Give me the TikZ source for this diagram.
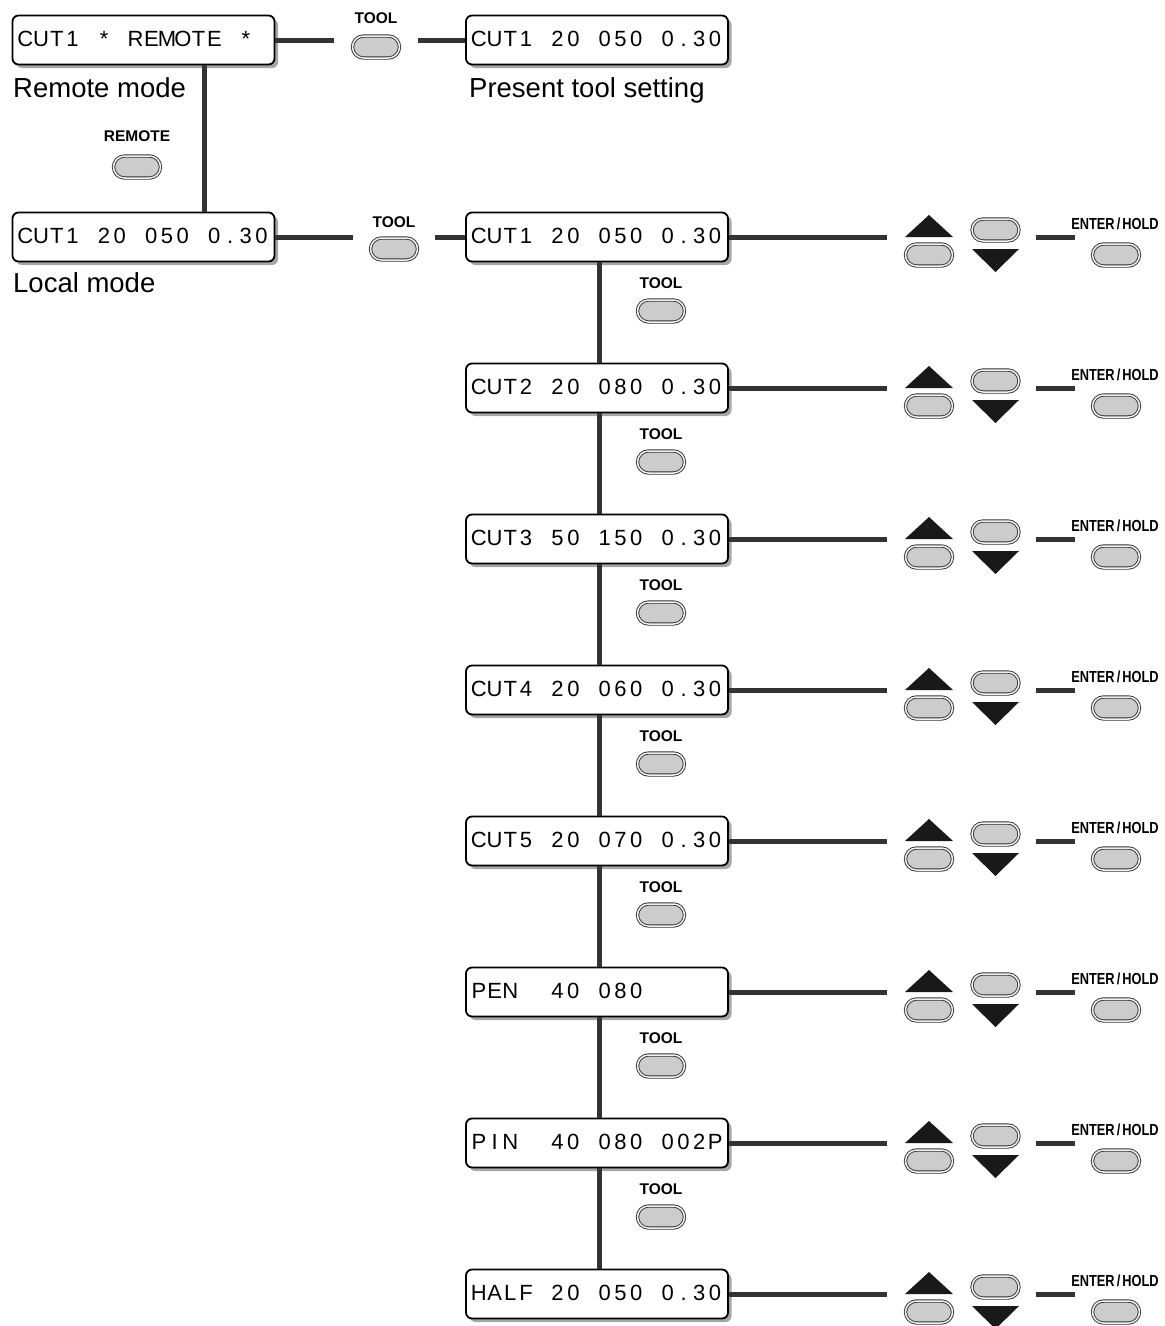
\documentclass[tikz,border=0pt]{standalone}
\usepackage{fontspec}
\setmainfont{Liberation Sans}
\usepackage{graphicx}
\usetikzlibrary{shapes.misc,shadows,calc}

\newcommand\lcdtext[1]{\lcdloop#1\relax}
\def\lcdloop#1{\ifx#1\relax\else\makebox[15.75pt][c]{\ifx#1_\else#1\fi}\expandafter\lcdloop\fi}

\tikzset{
 lcd/.style={draw=black, line width=1.8pt, rounded corners=6pt, fill=white,
   minimum width=262pt, minimum height=49pt, text width=252pt, inner xsep=5pt, inner ysep=0pt,
   text height=17pt, text depth=5pt, align=left, font=\fontsize{22}{26}\selectfont,
   drop shadow={shadow xshift=3.5pt, shadow yshift=-3.5pt, fill=black!35, opacity=1}},
 conn/.style={draw=black!80, line width=5pt},
 btn/.style={rounded rectangle, minimum width=47pt, minimum height=22pt, inner sep=0pt,
   draw=black!80, line width=0.9pt, double=black!6, double distance=1.5pt, fill=black!20},
 btnlabel/.style={font=\bfseries\fontsize{15.5}{18}\selectfont, inner sep=0pt},
 enterlabel/.style={font=\bfseries\fontsize{16}{18}\selectfont, inner sep=0pt},
 modelabel/.style={font=\fontsize{27.5}{32}\selectfont, anchor=base west, inner sep=0pt},
 arrowtri/.style={fill=black!90, draw=none},
}

\begin{document}
\begin{tikzpicture}[x=1pt,y=-1pt]
\useasboundingbox (0,0) rectangle (1165,1326);

% top area
\node[lcd] (remote) at (143.5,40) {\lcdtext{CUT1_*_REMOTE_*}};
\node[lcd] (present) at (597,40) {\lcdtext{CUT1_20_050_0.30}};
\node[lcd] (local) at (143.5,237) {\lcdtext{CUT1_20_050_0.30}};

\node[modelabel] (remlbl) at (13,97) {Remote mode};
\node[modelabel] (prslbl) at (469,97) {Present tool setting};
\node[modelabel] (loclbl) at (13,292) {Local mode};

\node[btnlabel] (tooltl) at (376,18) {TOOL};
\node[btn] (toolt) at (376,47) {};
\node[btnlabel] (remtl) at (137,136) {REMOTE};
\node[btn] (remb) at (137,167) {};
\node[btnlabel] (toolml) at (394,222) {TOOL};
\node[btn] (toolm) at (394,249) {};

\draw[conn, shorten >=18pt] (remote.east) -- (remote.east -| toolt.west);
\draw[conn, shorten <=18pt] (present.west -| toolt.east) -- (present.west);
\draw[conn] ([xshift=60.5pt]remote.south) -- ([xshift=60.5pt]local.north);

% column of settings
\foreach \k/\txt in {0/CUT1_20_050_0.30, 1/CUT2_20_080_0.30, 2/CUT3_50_150_0.30,
  3/CUT4_20_060_0.30, 4/CUT5_20_070_0.30, 5/PEN__40_080, 6/PIN__40_080_002P,
  7/HALF_20_050_0.30}{
  \pgfmathsetmacro\yy{237+151*\k}
  \node[lcd] (r\k) at (597,\yy) {\expandafter\lcdtext\expandafter{\txt}};
  \node[btn] (up\k) at (929,{\yy+18}) {};
  \fill[arrowtri] (905,\yy) -- (953,\yy) -- (929,{\yy-22}) -- cycle;
  \node[btn] (dn\k) at (995.5,{\yy-7}) {};
  \fill[arrowtri] (972,{\yy+12}) -- (1019,{\yy+12}) -- (995.5,{\yy+35}) -- cycle;
  \node[enterlabel] (el\k) at (1115,{\yy-13}) {\scalebox{0.8}[1]{ENTER\,/\,HOLD}};
  \node[btn] (en\k) at (1116,{\yy+18}) {};
  \draw[conn, shorten >=18pt] (r\k.east) -- (r\k.east -| up\k.west);
  \draw[conn, shorten <=17pt, shorten >=17pt] (r\k.east -| dn\k.east) -- (r\k.east -| en\k.west);
}

\foreach \k in {0,...,6}{
  \pgfmathsetmacro\yy{237+151*\k}
  \pgfmathtruncatemacro\nx{\k+1}
  \node[btnlabel] (tl\k) at (661,{\yy+46}) {TOOL};
  \node[btn] (tb\k) at (661,{\yy+74}) {};
  \draw[conn] ([xshift=2pt]r\k.south) -- ([xshift=2pt]r\nx.north);
}

\draw[conn, shorten >=17pt] (local.east) -- (local.east -| toolm.west);
\draw[conn, shorten <=17pt] (r0.west -| toolm.east) -- (r0.west);
\end{tikzpicture}
\end{document}
